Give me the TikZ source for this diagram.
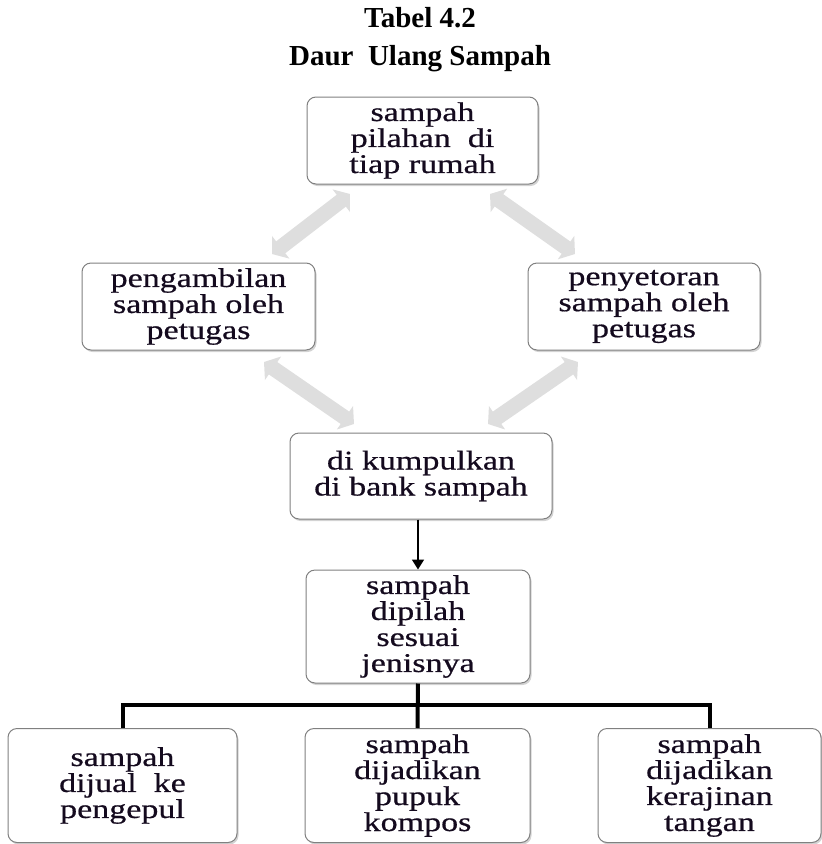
\documentclass[tikz,border=0pt]{standalone}
\usepackage{fontspec}
\setmainfont{Liberation Serif}
\newfontfamily\boxfont[FakeStretch=1.26,FakeBold=0.6]{Liberation Serif}
\usetikzlibrary{arrows.meta,shadows}
\definecolor{boxline}{RGB}{128,128,128}
\definecolor{ghost}{RGB}{222,222,222}
\definecolor{boxtext}{RGB}{20,10,30}
\begin{document}
\begin{tikzpicture}[x=1pt,y=-1pt,
  box/.style={draw=boxline, line width=1pt, rounded corners=9pt, fill=white,
    align=center, inner sep=0pt, text=boxtext,
    font=\boxfont\fontsize{27}{26}\selectfont,
    drop shadow={shadow xshift=1.5pt, shadow yshift=-2pt, opacity=0.35, fill=gray}},
  ghostarrow/.style={line width=15pt, draw=ghost,
    {Triangle[width=28pt,length=11pt]}-{Triangle[width=28pt,length=11pt]}},
  tree/.style={line width=4pt, draw=black, line join=miter},
  titletext/.style={font=\bfseries\fontsize{29}{31}\selectfont, anchor=base, inner sep=0pt}
]
\useasboundingbox (0,0) rectangle (822,844);

\node[titletext] (t1) at (420,27) {Tabel 4.2};
\node[titletext] (t2) at (420,65) {Daur\ \ Ulang Sampah};

\node[box, minimum width=231pt, minimum height=87pt] (top) at (422.5,140.5)
  {sampah\\pilahan\ \ di\\tiap rumah};
\node[box, minimum width=233pt, minimum height=87pt] (left) at (198.5,306.5)
  {pengambilan\\sampah oleh\\petugas};
\node[box, minimum width=232pt, minimum height=87pt] (right) at (644,306.5)
  {penyetoran\\sampah oleh\\petugas};
\node[box, minimum width=262pt, minimum height=86pt] (kumpul) at (421,476)
  {di kumpulkan\\di bank sampah};
\node[box, minimum width=224pt, minimum height=113pt] (pilah) at (418,626.5)
  {sampah\\dipilah\\sesuai\\jenisnya};
\node[box, minimum width=229pt, minimum height=114pt] (b1) at (122.5,785.5)
  {sampah\\dijual\ \ ke\\pengepul};
\node[box, minimum width=225pt, minimum height=114pt] (b2) at (417.5,785.5)
  {sampah\\dijadikan\\pupuk\\kompos};
\node[box, minimum width=223pt, minimum height=114pt] (b3) at (709.5,785.5)
  {sampah\\dijadikan\\kerajinan\\tangan};

\coordinate (a1s) at (272,254); \coordinate (a1e) at (350,194);
\coordinate (a2s) at (490,194); \coordinate (a2e) at (575,254);
\coordinate (a3s) at (264,362); \coordinate (a3e) at (354,424);
\coordinate (a4s) at (578,362); \coordinate (a4e) at (488,424);
\draw[ghostarrow] (a1s) -- (a1e);
\draw[ghostarrow] (a2s) -- (a2e);
\draw[ghostarrow] (a3s) -- (a3e);
\draw[ghostarrow] (a4s) -- (a4e);

\draw[line width=1.8pt, -{Triangle[width=12pt,length=10pt]}]
  (pilah.north |- kumpul.south) -- (pilah.north);

\coordinate (bar) at (418,705);
\draw[tree] (pilah.south) -- (b2.north);
\draw[tree] (b1.north) |- (bar) -| (b3.north);
\end{tikzpicture}
\end{document}
